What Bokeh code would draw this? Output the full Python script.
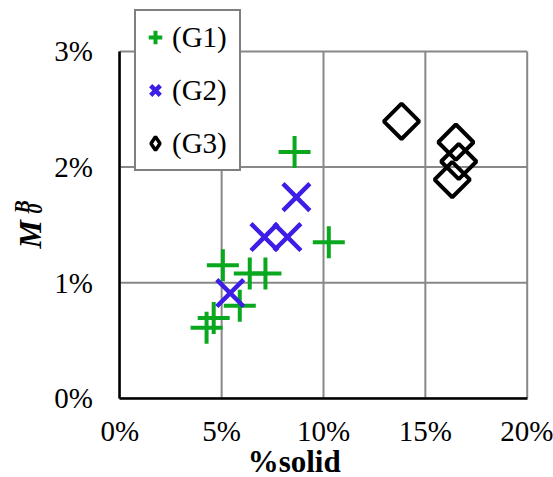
from bokeh.plotting import figure
from bokeh.models import Range1d, FixedTicker, Label, Legend, LegendItem
from bokeh.embed import file_html
from bokeh.resources import INLINE

# ---- data (percent units) ----
g1_x = [8.58, 10.26, 5.06, 6.38, 7.15, 5.89, 4.61, 4.26]
g1_y = [2.13, 1.35, 1.15, 1.08, 1.08, 0.80, 0.695, 0.61]
g2_x = [8.67, 7.10, 8.23, 5.42]
g2_y = [1.74, 1.394, 1.394, 0.91]
g3_x = [13.83, 16.50, 16.64, 16.32]
g3_y = [2.396, 2.215, 2.048, 1.892]

series_names = ["(G1)", "(G2)", "(G3)"]
x_ticks = [0, 5, 10, 15, 20]
x_tick_labels = ["0%", "5%", "10%", "15%", "20%"]
y_ticks = [0, 1, 2, 3]
y_tick_labels = ["0%", "1%", "2%", "3%"]
x_title = "%solid"

FONT = "Liberation Serif"
GREEN = "#0aa81e"
BLUE = "#3c1ee6"
GRID = "#888888"

# ---- layout: the frame fills the canvas; axes sit at fixed locations ----
W, H = 553, 477
X0_PX, PX_X = 119.3, 20.37      # screen x of 0 %, pixels per 1 %
Y0_PX, PX_Y = 397.7, 115.57     # screen y of 0 %, pixels per 1 %
BASE_SHIFT = 0.3375             # label anchor correction (fraction of font size)


def dx(px):
    return (px - X0_PX) / PX_X


def dy(py):
    return (Y0_PX - py) / PX_Y


p = figure(width=W, height=H, output_backend="svg", toolbar_location=None,
           x_range=Range1d(dx(0), dx(W)), y_range=Range1d(dy(H), dy(0)),
           min_border=0)
p.min_border_left = p.min_border_right = p.min_border_top = p.min_border_bottom = 0
p.title.visible = False
p.outline_line_color = None
p.background_fill_color = "white"
p.border_fill_color = "white"
p.xgrid.visible = False
p.ygrid.visible = False

# grid lines limited to the data area
p.segment(x0=x_ticks, y0=[y_ticks[0]] * len(x_ticks), x1=x_ticks, y1=[y_ticks[-1]] * len(x_ticks),
          line_color=GRID, line_width=2)
p.segment(x0=[x_ticks[0]] * len(y_ticks), y0=y_ticks, x1=[x_ticks[-1]] * len(y_ticks), y1=y_ticks,
          line_color=GRID, line_width=2)

# axes
p.xaxis.fixed_location = 0
p.yaxis.fixed_location = 0
p.xaxis.bounds = (x_ticks[0], x_ticks[-1])
p.yaxis.bounds = (y_ticks[0], y_ticks[-1])
p.xaxis.ticker = FixedTicker(ticks=x_ticks)
p.yaxis.ticker = FixedTicker(ticks=y_ticks)
p.xaxis.major_label_overrides = {t: l for t, l in zip(x_ticks, x_tick_labels)}
p.yaxis.major_label_overrides = {t: l for t, l in zip(y_ticks, y_tick_labels)}
for ax in (p.xaxis, p.yaxis):
    ax.axis_line_color = "black"
    ax.axis_line_width = 2.5
    ax.major_tick_line_color = None
    ax.minor_tick_line_color = None
    ax.major_tick_in = 0
    ax.major_tick_out = 0
    ax.major_label_text_font = FONT
    ax.major_label_text_font_size = "29px"
    ax.major_label_text_color = "black"
p.xaxis.major_label_standoff = 17
p.yaxis.major_label_standoff = 27

# series
r1 = p.scatter(g1_x, g1_y, marker="cross", size=32, line_color=GREEN, line_width=4)
r2 = p.scatter(g2_x, g2_y, marker="x", size=38, line_color=BLUE, line_width=4.5)
r3 = p.scatter(g3_x, g3_y, marker="square", angle=0.785398, size=25, fill_color=None,
               line_color="black", line_width=4)
# legend swatch for G3 (diamond); no visible point
r3_key = p.scatter([float("nan")], [float("nan")], marker="diamond", size=25, fill_color=None,
                   line_color="black", line_width=3.5)

leg = Legend(items=[LegendItem(label=series_names[0], renderers=[r1]),
                    LegendItem(label=series_names[1], renderers=[r2]),
                    LegendItem(label=series_names[2], renderers=[r3_key])],
             location=(134, H - 171))
leg.margin = 0
leg.padding = 2
leg.spacing = 5
leg.glyph_width = 34
leg.glyph_height = 48
leg.label_standoff = 0
leg.label_width = 65
leg.label_text_font = FONT
leg.label_text_font_size = "29px"
leg.label_text_color = "black"
leg.border_line_color = "black"
leg.border_line_width = 2
leg.background_fill_color = "white"
leg.background_fill_alpha = 1.0
p.add_layout(leg)


def add_text(text, px, py, size, style, angle=0.0, align="left"):
    # (px, py): baseline start point in screen pixels
    shift = BASE_SHIFT * size
    if angle:
        px -= shift
    else:
        py -= shift
    p.add_layout(Label(x=dx(px), y=dy(py), text=text, angle=angle, text_align=align,
                       text_baseline="alphabetic", text_font=FONT,
                       text_font_size=f"{size}px", text_font_style=style,
                       text_color="black"))


# x axis title
add_text(x_title, 293.7, 471.5, 31, "bold", align="center")

# y axis title: M with subscript 0 and superscript B (rotated)
ANG = 1.5707963
add_text("M", 40, 248, 32, "bold italic", angle=ANG)
add_text("0", 41.7, 213.3, 20, "bold italic", angle=ANG)
add_text("B", 28.3, 213, 20, "bold italic", angle=ANG)

open("out.html", "w").write(file_html(p, INLINE))
